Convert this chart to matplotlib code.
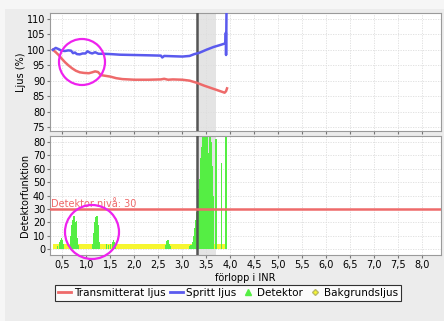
import numpy as np
import matplotlib
matplotlib.use("Agg")
import matplotlib.pyplot as plt
from matplotlib.patches import Ellipse, Rectangle
from matplotlib.lines import Line2D
from matplotlib.ticker import FuncFormatter

# --- data ---
trans_x = [0.30, 0.36, 0.42, 0.48, 0.55, 0.62, 0.70, 0.78, 0.86, 0.95, 1.05, 1.12, 1.18, 1.24, 1.30,
           1.38, 1.50, 1.62, 1.75, 2.00, 2.30, 2.55, 2.62, 2.70, 2.80, 3.00, 3.15, 3.30, 3.45, 3.60,
           3.75, 3.88, 3.91, 3.93]
trans_y = [100.0, 99.2, 98.3, 97.2, 96.0, 95.0, 94.0, 93.2, 92.7, 92.5, 92.4, 92.7, 93.0, 92.8, 91.8,
           91.6, 91.3, 90.8, 90.5, 90.3, 90.3, 90.4, 90.6, 90.3, 90.4, 90.3, 90.0, 89.3, 88.4, 87.6,
           86.8, 86.1, 86.6, 87.5]

spritt_x = [0.30, 0.36, 0.42, 0.48, 0.55, 0.62, 0.68, 0.72, 0.76, 0.80, 0.86, 0.92, 0.98, 1.02, 1.08,
            1.12, 1.18, 1.25, 1.35, 1.50, 1.70, 2.00, 2.30, 2.55, 2.58, 2.62, 2.80, 3.00, 3.15, 3.25,
            3.35, 3.50, 3.65, 3.80, 3.90, 3.905, 3.91, 3.915, 3.92]
spritt_y = [100.0, 100.6, 100.2, 99.7, 99.6, 99.8, 99.7, 98.9, 99.1, 98.6, 98.5, 98.8, 98.8, 99.5, 99.0,
            98.8, 99.2, 98.7, 98.7, 98.6, 98.4, 98.3, 98.2, 98.1, 97.5, 98.0, 97.9, 97.8, 98.0, 98.6,
            99.0, 100.0, 100.9, 101.6, 102.1, 105.5, 98.3, 105.0, 115.0]

det_x = [0.40, 0.44, 0.46, 0.48, 0.50, 0.52,
         0.66, 0.68, 0.70, 0.72, 0.74, 0.76, 0.78, 0.80, 0.82, 0.84,
         1.12, 1.14, 1.16, 1.18, 1.20, 1.22, 1.24, 1.26,
         1.42, 1.46, 1.50, 1.54, 1.56, 1.58, 1.60,
         2.66, 2.68, 2.70, 2.72, 2.74,
         3.14, 3.18, 3.21, 3.23, 3.25, 3.27, 3.29, 3.31, 3.33, 3.35, 3.37, 3.39, 3.41, 3.43,
         3.45, 3.47, 3.49, 3.51, 3.53, 3.55, 3.57, 3.59, 3.61, 3.63, 3.65,
         3.70, 3.82, 3.91]
det_y = [2, 5, 7, 8, 7, 4,
         3, 10, 18, 22, 25, 20, 14, 21, 8, 3,
         4, 12, 14, 20, 24, 25, 18, 5,
         4, 3, 4, 5, 7, 5, 3,
         3, 6, 7, 4, 2,
         2, 3, 5, 10, 16, 22, 28, 36, 45, 52, 60, 68, 76, 84,
         90, 88, 90, 86, 90, 72, 90, 88, 80, 62, 40,
         82, 64, 90]

bg_x = [0.30, 0.40, 0.50, 0.60, 0.70, 0.80, 0.90, 1.00, 1.10, 1.20, 1.30, 1.40, 1.50, 1.60, 1.70, 1.80,
        1.90, 2.00, 2.10, 2.20, 2.30, 2.40, 2.50, 2.60, 2.70, 2.80, 2.90, 3.00, 3.10, 3.20, 3.30, 3.40,
        3.50, 3.60, 3.70, 3.80]
bg_y = [3.5, 3.5, 4.0, 4.0, 4.0, 4.0, 3.8, 3.8, 4.0, 4.0, 4.0, 4.0, 4.0, 4.0, 4.0, 4.0,
        4.0, 4.0, 4.0, 4.0, 4.0, 4.0, 4.0, 4.0, 4.0, 4.0, 4.0, 4.0, 4.0, 4.0, 4.0, 4.0,
        4.0, 4.0, 4.0, 3.5]

det_level = 30
marker_x = 3.30
band = (3.30, 3.70)

upper_ticks = [75, 80, 85, 90, 95, 100, 105, 110]
lower_ticks = [0, 10, 20, 30, 40, 50, 60, 70, 80]
x_ticks = [0.5, 1.0, 1.5, 2.0, 2.5, 3.0, 3.5, 4.0, 4.5, 5.0, 5.5, 6.0, 6.5, 7.0, 7.5, 8.0]

RED = "#ee6a6a"
BLUE = "#5a5aee"
GREEN = "#55ee44"
YELLOW = "#f6f630"

W, H = 444, 321
fig = plt.figure(figsize=(W / 100, H / 100), dpi=100, facecolor="#f6f6f6")
fig.patches.append(Rectangle((5 / W, 0), 1, 1 - 9 / H, transform=fig.transFigure,
                             facecolor="#ececec", edgecolor="none", zorder=-10))

ax1 = fig.add_axes([50 / W, 1 - 131 / H, 391 / W, 118 / H])
ax2 = fig.add_axes([50 / W, 1 - 255 / H, 391 / W, 119 / H], sharex=ax1)

for ax in (ax1, ax2):
    ax.set_facecolor("white")
    ax.grid(True, color="#dddddd", linestyle=(0, (1.5, 1.5)), linewidth=0.6)
    ax.set_axisbelow(True)
    for s in ax.spines.values():
        s.set_color("#9a9a9a")
        s.set_linewidth(0.8)
    ax.tick_params(labelsize=7, length=2, color="#777777", pad=1.5)
    ax.axvspan(band[0], band[1], color="#e4e4e4", zorder=0.5, lw=0)
    ax.axvline(marker_x, color="#555555", lw=1.8, zorder=3)

ax1.plot(trans_x, trans_y, color=RED, lw=1.8, zorder=4)
ax1.plot(spritt_x, spritt_y, color=BLUE, lw=1.8, zorder=4)
ax1.set_ylim(73.7, 111.9)
ax1.set_yticks(upper_ticks)
ax1.set_ylabel("Ljus (%)", fontsize=7)
ax1.yaxis.set_label_coords(-0.062, 0.5)
ax1.tick_params(labelbottom=False)

ax2.bar(bg_x, bg_y, width=0.1, align="edge", color=YELLOW, lw=0, zorder=2)
ax2.bar(det_x, det_y, width=0.026, color=GREEN, lw=0, zorder=2.5)
ax2.axhline(det_level, color=RED, lw=1.8, zorder=4)
ax2.text(0.27, det_level + 1.5, "Detektor nivå: 30", color=RED, fontsize=7, zorder=5)
ax2.set_ylim(-4.5, 84.5)
ax2.set_yticks(lower_ticks)
ax2.set_ylabel("Detektorfunktion", fontsize=7)
ax2.yaxis.set_label_coords(-0.05, 0.5)
ax2.set_xlim(0.24, 8.39)
ax2.set_xticks(x_ticks)
ax2.xaxis.set_major_formatter(FuncFormatter(lambda v, p: f"{v:.1f}".replace(".", ",")))
ax2.set_xlabel("förlopp i INR", fontsize=7, labelpad=2)

handles = [Line2D([], [], color=RED, lw=2),
           Line2D([], [], color=BLUE, lw=2),
           Line2D([], [], color=GREEN, marker="^", lw=0, markersize=4),
           Line2D([], [], color=YELLOW, marker="D", lw=0, markersize=3, markeredgecolor="#bbbb66")]
labels = ["Transmitterat ljus", "Spritt ljus", "Detektor", "Bakgrundsljus"]
leg = fig.legend(handles, labels, loc="center", bbox_to_anchor=(228 / W, 1 - 293 / H), ncol=4,
                 fontsize=7.5, frameon=True, fancybox=False, handlelength=1.2, handletextpad=0.3,
                 columnspacing=0.5, borderpad=0.25)
leg.get_frame().set_edgecolor("black")
leg.get_frame().set_linewidth(0.8)
leg.get_frame().set_facecolor("white")

# magenta highlight circles
for cx, cy, r in [(82, 62, 23), (92, 232, 27)]:
    fig.patches.append(Ellipse((cx / W, 1 - cy / H), 2 * r / W, 2 * r / H, transform=fig.transFigure,
                               fill=False, edgecolor="#ee22ee", lw=1.6, zorder=10))

fig.savefig("out.png", dpi=100, facecolor=fig.get_facecolor())
